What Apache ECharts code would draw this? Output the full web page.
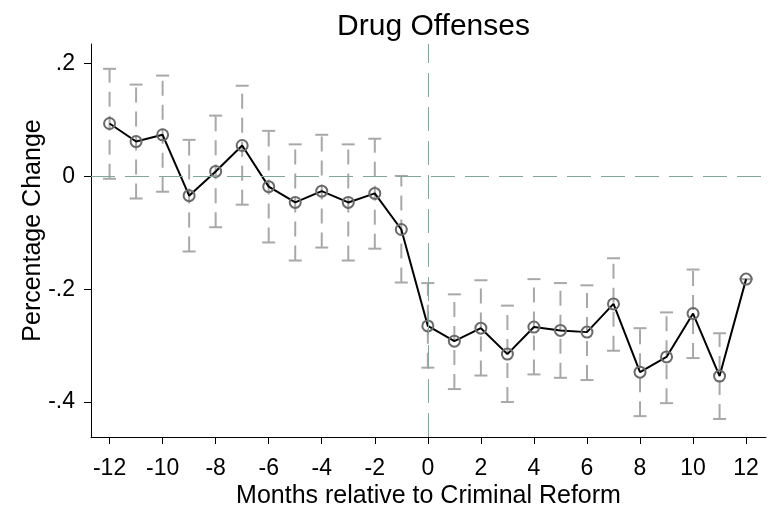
<!DOCTYPE html>
<html>
<head>
<meta charset="utf-8">
<script src="https://cdn.jsdelivr.net/npm/echarts@6/dist/echarts.min.js"></script>
<style>
  html, body { margin: 0; padding: 0; background: #fff; }
  #chart { width: 774px; height: 512px; }
</style>
</head>
<body>
<div id="chart"></div>
<script>
// Event-study estimates: months relative to the reform
const months = [-12, -11, -10, -9, -8, -7, -6, -5, -4, -3, -2, -1, 0, 1, 2, 3, 4, 5, 6, 7, 8, 9, 10, 11, 12];
const estimates = [0.094, 0.062, 0.074, -0.034, 0.009, 0.055, -0.018, -0.046, -0.026, -0.046, -0.030, -0.094,
                   -0.265, -0.292, -0.269, -0.315, -0.267, -0.273, -0.276, -0.226, -0.347, -0.320, -0.243, -0.354, -0.182];
const ciUpper = [0.191, 0.163, 0.179, 0.065, 0.108, 0.161, 0.081, 0.057, 0.074, 0.057, 0.067, 0.001,
                 -0.189, -0.209, -0.184, -0.229, -0.182, -0.189, -0.193, -0.145, -0.269, -0.241, -0.165, -0.278, -0.182];
const ciLower = [-0.004, -0.039, -0.027, -0.133, -0.090, -0.050, -0.117, -0.149, -0.126, -0.149, -0.128, -0.188,
                 -0.339, -0.377, -0.353, -0.400, -0.351, -0.357, -0.361, -0.309, -0.425, -0.402, -0.322, -0.430, -0.182];
const xTicks = [-12, -10, -8, -6, -4, -2, 0, 2, 4, 6, 8, 10, 12];
const yTicks = [-0.4, -0.2, 0, 0.2];

const FONT = '"Liberation Sans", Arial, Helvetica, sans-serif';
const chart = echarts.init(document.getElementById('chart'), null, { renderer: 'canvas' });

function fmtY(v) {
  if (Math.abs(v) < 1e-9) return '0';
  const s = String(Math.round(v * 10) / 10);
  return s.replace('0.', '.');
}

const ciData = months.map((m, i) => [m, ciLower[i], ciUpper[i]]);
const pointData = months.map((m, i) => [m, estimates[i]]);

function renderCI(params, api) {
  const x = api.value(0);
  const lo = api.coord([x, api.value(1)]);
  const hi = api.coord([x, api.value(2)]);
  const half = 6.5;
  const style = { stroke: '#a8a8a8', lineWidth: 2, fill: null };
  return {
    type: 'group',
    children: [
      { type: 'line', shape: { x1: lo[0], y1: lo[1], x2: hi[0], y2: hi[1] },
        style: Object.assign({}, style, { lineDash: [15, 9] }) },
      { type: 'line', shape: { x1: hi[0] - half, y1: hi[1], x2: hi[0] + half, y2: hi[1] }, style: style },
      { type: 'line', shape: { x1: lo[0] - half, y1: lo[1], x2: lo[0] + half, y2: lo[1] }, style: style }
    ]
  };
}

chart.setOption({
  animation: false,
  backgroundColor: '#ffffff',
  textStyle: { fontFamily: FONT },
  title: {
    text: 'Drug Offenses',
    left: 428.5,
    top: 7,
    textAlign: 'center',
    textStyle: { fontFamily: FONT, fontSize: 30, fontWeight: 'normal', color: '#000' }
  },
  grid: { left: 91, right: 8, top: 44, bottom: 75, containLabel: false, outerBoundsMode: 'none' },
  xAxis: {
    type: 'value',
    min: -12.7,
    max: 12.75,
    name: 'Months relative to Criminal Reform',
    nameLocation: 'middle',
    nameGap: 47,
    nameMoveOverlap: false,
    nameTextStyle: { fontFamily: FONT, fontSize: 25, color: '#000' },
    axisLine: { onZero: false, lineStyle: { color: '#000', width: 1 } },
    axisTick: { show: true, length: 7, customValues: xTicks, lineStyle: { color: '#000' } },
    axisLabel: { customValues: xTicks, margin: 20, fontFamily: FONT, fontSize: 23, color: '#000' },
    splitLine: { show: false }
  },
  yAxis: {
    type: 'value',
    min: -0.462,
    max: 0.235,
    name: 'Percentage Change',
    nameLocation: 'middle',
    nameGap: 45,
    nameMoveOverlap: false,
    nameTextStyle: { fontFamily: FONT, fontSize: 25, color: '#000', padding: [0, 0, 0, 20] },
    axisLine: { show: true, onZero: false, lineStyle: { color: '#000', width: 1 } },
    axisTick: { show: true, length: 7, customValues: yTicks, lineStyle: { color: '#000' } },
    axisLabel: { customValues: yTicks, margin: 16, fontFamily: FONT, fontSize: 23, color: '#000', formatter: fmtY },
    splitLine: { show: false }
  },
  series: [
    {
      // reference lines at zero effect and at the reform month
      type: 'line',
      data: [],
      z: 1,
      silent: true,
      markLine: {
        silent: true,
        symbol: 'none',
        label: { show: false },
        lineStyle: { color: '#7fa89a', width: 1, type: [24, 10] },
        data: [{ yAxis: 0 }, { xAxis: 0 }]
      }
    },
    {
      type: 'custom',
      z: 2,
      renderItem: renderCI,
      encode: { x: 0, y: [1, 2] },
      data: ciData
    },
    {
      type: 'line',
      z: 3,
      data: pointData,
      symbol: 'circle',
      symbolSize: 11,
      lineStyle: { color: '#000', width: 2 },
      itemStyle: { color: 'rgba(0,0,0,0)', borderColor: '#6a6a6a', borderWidth: 2 }
    }
  ]
});
</script>
</body>
</html>
